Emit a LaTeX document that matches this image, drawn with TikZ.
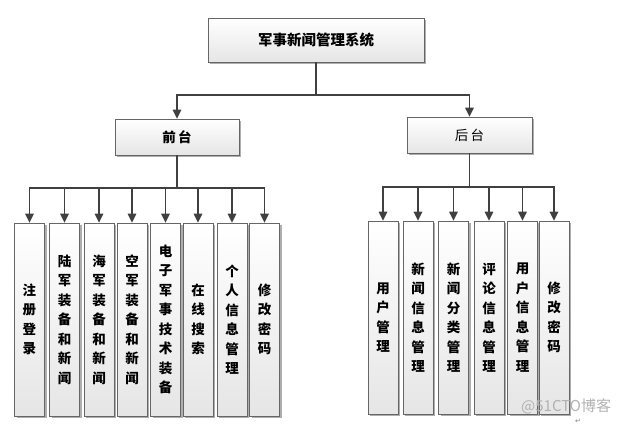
\documentclass[tikz,border=0pt]{standalone}
\usepackage{fontspec}
\newfontfamily\cjk{Noto Sans CJK SC}
\newfontfamily\dejavu{DejaVu Sans}
\usetikzlibrary{arrows.meta,shadows}
\tikzset{
  box/.style={draw=black!60, line width=0.8pt, top color=white, bottom color=black!10,
    drop shadow={shadow xshift=2pt, shadow yshift=-2pt, fill=black!45, opacity=0.7},
    inner sep=0pt, align=center, text=black},
  leaf/.style={box, minimum width=30pt, minimum height=193pt,
    font=\cjk\bfseries\fontsize{13.5}{19.5}\selectfont},
  link/.style={draw=black!75, line width=1.5pt},
  arr/.style={link, -{Triangle[width=8.5pt,length=9pt]}},
}
\begin{document}
\begin{tikzpicture}[x=1pt,y=-1pt]
\useasboundingbox (0,0) rectangle (630,426);
% top level
\node[box, minimum width=216pt, minimum height=44pt, font=\cjk\bfseries\fontsize{14.5}{16}\selectfont] (top) at (316,40) {军事新闻管理系统};
\node[box, minimum width=124pt, minimum height=36pt, font=\cjk\bfseries\fontsize{13.5}{15}\selectfont] (qt) at (177,137) {前\,台};
\node[box, minimum width=125pt, minimum height=36pt, font=\cjk\fontsize{13.5}{15}\selectfont] (ht) at (469.5,135) {后\,台};
\coordinate (tbus) at (316,95);
\draw[link] (top.south) -- (tbus);
\draw[arr] (tbus) -| (qt.north);
\draw[arr] (tbus) -| (ht.north);
% front leaves
\node[leaf] (f1) at (29.5,319.5) {注\\册\\登\\录};
\node[leaf] (f2) at (64.5,319.5) {陆\\军\\装\\备\\和\\新\\闻};
\node[leaf] (f3) at (99,319.5) {海\\军\\装\\备\\和\\新\\闻};
\node[leaf] (f4) at (132,319.5) {空\\军\\装\\备\\和\\新\\闻};
\node[leaf] (f5) at (165.5,319.5) {电\\子\\军\\事\\技\\术\\装\\备};
\node[leaf] (f6) at (198,319.5) {在\\线\\搜\\索};
\node[leaf] (f7) at (232,319.5) {个\\人\\信\\息\\管\\理};
\node[leaf] (f8) at (264.5,319.5) {修\\改\\密\\码};
\coordinate (qbus) at (177,188);
\draw[link] (qt.south) -- (qbus);
\foreach \n in {f1,f2,f3,f4,f5,f6,f7,f8} \draw[arr] (qbus) -| (\n.north);
% back leaves
\node[leaf] (b1) at (383,317.5) {用\\户\\管\\理};
\node[leaf] (b2) at (418,317.5) {新\\闻\\信\\息\\管\\理};
\node[leaf] (b3) at (453.5,317.5) {新\\闻\\分\\类\\管\\理};
\node[leaf] (b4) at (489,317.5) {评\\论\\信\\息\\管\\理};
\node[leaf] (b5) at (522.5,317.5) {用\\户\\信\\息\\管\\理};
\node[leaf] (b6) at (554,317.5) {修\\改\\密\\码};
\coordinate (hbus) at (469.5,187);
\draw[link] (ht.south) -- (hbus);
\foreach \n in {b1,b2,b3,b4,b5,b6} \draw[arr] (hbus) -| (\n.north);
% watermark
\node[text=black!30, font=\cjk\fontsize{15}{17}\selectfont, anchor=west, inner sep=0pt] (wm) at (521,406) {@51CTO博客};
\node[text=black!50, font=\dejavu\fontsize{7}{8}\selectfont, inner sep=0pt] (pm) at (578,421) {↵};
\end{tikzpicture}
\end{document}
